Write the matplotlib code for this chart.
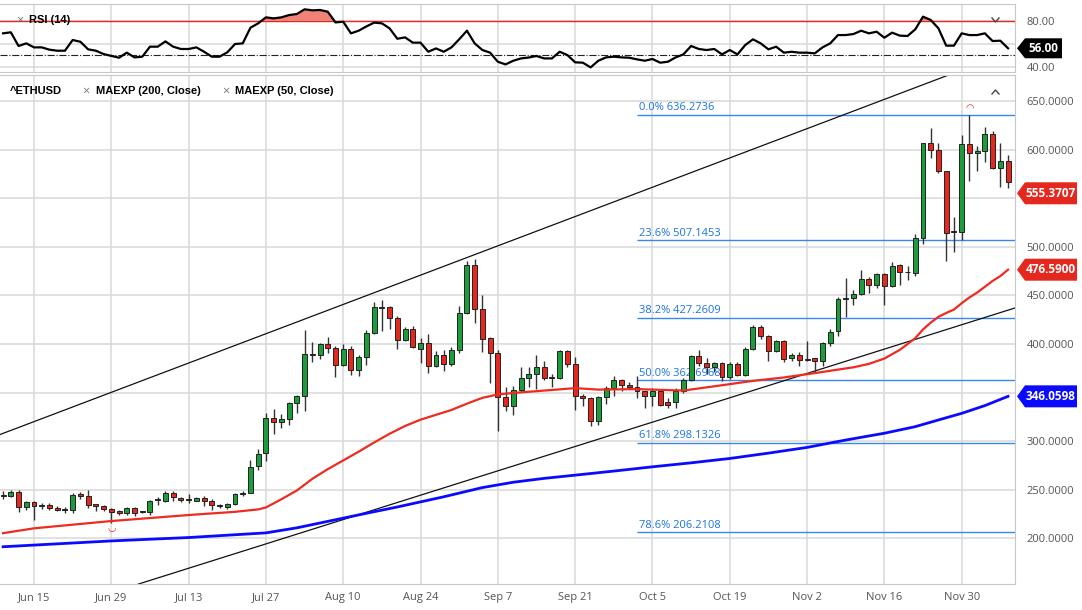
import numpy as np
import pandas as pd
import matplotlib
matplotlib.use('Agg')
import matplotlib.pyplot as plt
from matplotlib.patches import Polygon, Rectangle
from matplotlib.lines import Line2D
from matplotlib.transforms import IdentityTransform

plt.rcParams['font.family'] = ['Open Sans', 'DejaVu Sans']

# daily bars (weekdays only) starting Jun 9 2020
dates = pd.bdate_range('2020-06-09', periods=131)

opens = [243, 243.1, 247.6, 232.1, 237.3, 233.2, 233.8, 231.4, 228.7, 228.7,
         245.2, 243.1, 234.9, 233.2, 230, 227.7, 225.3, 231.1, 226.6, 227,
         239, 238, 246.6, 241.4, 239, 238.3, 241.4, 238, 233.3, 231.5,
         235, 245.5, 246.6, 274, 287.6, 324.1, 320, 322.8, 338.8, 346.3,
         390, 388.3, 399.6, 396.2, 378.1, 395.2, 373, 386.6, 411.5, 438.5,
         437.8, 426.9, 404.4, 415.6, 395, 401.2, 377.5, 388.8, 379.6, 394,
         432.1, 481.6, 435.6, 406, 390.9, 345.2, 335.6, 352.7, 365.1, 368.6,
         376.1, 365.1, 365.1, 392.6, 379.6, 346.2, 344.5, 321.1, 345.2, 354.8,
         362.4, 358, 356, 351.7, 346.6, 351.7, 340.7, 340.7, 351.7, 362.8,
         387.2, 380, 376.6, 380, 365.5, 379.3, 368, 394.8, 417.9, 408.6,
         392.4, 402.8, 385.2, 388.6, 383.4, 385.2, 382, 400.7, 413, 446.5,
         447.6, 451.7, 466.6, 461, 471.7, 459.3, 481, 473.8, 473.1, 509.3,
         606.9, 600, 578.6, 515.5, 515.5, 606.2, 596.6, 599, 616.2, 581.7,
         589]
highs = [248.6, 249.3, 249, 238.3, 238, 235.6, 236, 233, 232, 245.9,
         247.6, 249.3, 235.5, 234.5, 231.1, 228.7, 232, 232, 227.3, 239.7,
         242.4, 248.3, 248.3, 242.4, 245.2, 242.4, 243, 240, 235, 236,
         246, 248, 280.7, 291.7, 328.6, 333, 327.9, 340.5, 347.3, 414.6,
         402, 401, 407, 398, 399.6, 397.5, 388.3, 414, 443.6, 445.4,
         439.5, 429.3, 417.3, 419, 406.4, 409.8, 392.6, 394.3, 396.7, 438.7,
         485.4, 487.8, 450, 407, 394, 355.5, 357, 376.8, 376.1, 388.8,
         382.3, 369.2, 394, 394, 387.1, 348.6, 345, 345.9, 357.2, 367.5,
         364, 360.7, 367.2, 352, 354.5, 352, 344, 354.5, 364.8, 389,
         393.8, 385.5, 381, 381, 381, 381, 396.6, 420, 420, 409.6,
         404, 404, 390.3, 392, 403.4, 385.5, 401.7, 415, 448.3, 468.3,
         455.2, 476.6, 469, 473.4, 473, 484.5, 482.8, 480.3, 513.8, 607.6,
         622.4, 606.9, 578.6, 531, 615.5, 636.3, 604.1, 623.4, 620, 607.6,
         594.8]
lows = [240, 242.4, 227, 228.7, 218.4, 229.7, 228.7, 227.5, 226.3, 225.9,
        240.7, 231, 227.7, 227.7, 215.6, 223.5, 223.5, 222.7, 225.9, 223.5,
        234.5, 237.3, 238, 237.5, 236.6, 237.8, 233, 229, 231, 230,
        234, 243, 246, 270.5, 279, 307, 313, 316.6, 329.2, 331.3,
        381.5, 385, 390.7, 366, 377, 367.8, 366.8, 378, 410.5, 413,
        415.6, 395, 403, 396.2, 380.2, 370, 376.8, 372, 377.8, 390.5,
        431, 421.5, 391.6, 359.6, 310.8, 331.4, 326.3, 350.3, 355.5, 353.8,
        362.4, 355.5, 364, 376.1, 332.1, 335.6, 315.3, 316, 338.3, 346.9,
        352, 353.8, 344.1, 334.5, 336.2, 336.2, 333.8, 334.5, 350, 362,
        377.6, 369, 370.7, 362, 363.8, 366.6, 366.6, 393.8, 405.2, 382.8,
        391.4, 381, 382.8, 377.6, 382.8, 371.4, 377.6, 398, 408, 427.6,
        439.7, 451, 452.4, 458, 440.7, 458.6, 461, 465.5, 469.7, 503.4,
        591.4, 575.9, 485.2, 494.8, 507.6, 568.3, 578.3, 588, 580, 562.1,
        560.3]
closes = [243, 247.6, 232.1, 237.3, 232.8, 233.2, 231, 228.7, 228.7, 244.8,
          243.1, 234.5, 233.5, 230, 227, 225.6, 231.1, 225.6, 226.6, 238,
          239, 246.6, 241.8, 239, 239, 241.4, 238, 234, 233.3, 235,
          245.5, 245.5, 273.2, 286.5, 324.1, 320, 322.4, 338.8, 346.3, 390,
          388.3, 399.6, 396.2, 378.1, 395.2, 373, 386.6, 411.5, 438.5, 437.2,
          426.9, 404.4, 415.6, 396.9, 401.2, 377.1, 388.8, 379.6, 394, 432.1,
          481.6, 435.6, 405.3, 390.9, 345.2, 335.6, 352.7, 365.1, 368.6, 376.1,
          365.1, 365.1, 392.6, 379.6, 346.2, 344.5, 321.1, 345.2, 354.8, 362.4,
          357.9, 355.5, 351.9, 346.6, 351.7, 336.9, 336.9, 351.7, 362.8, 387.2,
          380, 376.6, 380, 365.5, 379.3, 368, 394.8, 417.9, 408.6, 392.4,
          402.8, 384.5, 389, 383.4, 384.5, 382.8, 400.7, 412, 445.9, 447.2,
          451.7, 466.6, 461, 471.7, 459.3, 480.7, 474.1, 473.8, 509.3, 606.9,
          600, 578.3, 514.8, 515.5, 606.2, 596.6, 599.3, 616.2, 581.7, 589,
          566.6]

rsi = [69.0, 69.9, 58.0, 60.3, 56.8, 56.8, 54.8, 53.9, 53.9, 63.2,
       61.7, 55.1, 53.9, 51.0, 49.4, 47.8, 52.2, 48.1, 48.7, 57.4,
       57.4, 62.0, 57.4, 55.4, 55.4, 56.8, 53.0, 48.7, 48.7, 52.5,
       59.7, 60.3, 73.9, 77.7, 82.9, 82.0, 82.9, 84.9, 85.8, 89.9,
       89.0, 89.3, 87.8, 78.5, 79.1, 69.0, 71.3, 75.0, 78.3, 77.7,
       73.3, 64.3, 65.5, 60.9, 60.9, 53.0, 55.9, 53.0, 56.8, 63.8,
       71.3, 60.3, 54.5, 52.2, 44.3, 42.0, 45.2, 47.2, 48.0, 49.3,
       47.2, 47.2, 53.0, 50.1, 43.8, 43.5, 39.4, 45.2, 48.1, 48.7,
       48.1, 47.8, 46.4, 45.2, 46.7, 43.5, 44.3, 48.1, 50.7, 58.0,
       55.4, 54.5, 55.4, 50.7, 54.5, 50.7, 58.8, 63.8, 60.3, 55.1,
       57.4, 52.2, 53.0, 52.2, 52.2, 51.6, 56.8, 60.3, 67.5, 67.5,
       68.4, 71.3, 69.0, 70.4, 65.2, 69.6, 67.0, 66.7, 72.5, 83.5,
       80.6, 73.3, 58.3, 58.3, 69.0, 67.5, 67.5, 69.0, 62.3, 62.6,
       56.0]

ema50_x = [0, 4, 14, 24, 30, 33, 34, 36, 38, 40, 42, 44, 46, 48, 50, 52, 54, 56, 58,
           60, 62, 64, 66, 70, 74, 77, 82, 88, 93, 97, 101, 105, 107, 110, 112,
           114, 116, 117, 118, 119, 120, 121, 122, 123, 124, 125, 126, 127, 128,
           129, 130]
ema50_y = [205, 210, 217.5, 223.7, 227, 229.5, 231.5, 240, 249, 261, 271, 280, 289,
           298.5, 307.5, 315.5, 322, 327, 332, 338.5, 344.5, 348, 349.5, 352,
           354.5, 353, 353.5, 352, 357.5, 362, 365.5, 370, 372.4, 376, 379.5,
           385, 394, 400, 406, 415, 422, 428, 432, 435.5, 442, 448, 453, 459,
           465, 470, 476.59]

ema200_x = [0, 14, 24, 34, 38, 44, 47, 51, 57, 62, 66, 70, 74, 79, 84, 89, 94,
            99, 104, 109, 114, 118, 121, 124, 127, 130]
ema200_y = [191, 197, 200.5, 205.3, 210.5, 220.5, 225.5, 232, 242.5, 252,
            257.5, 261.5, 264.8, 269, 273.4, 277.5, 282, 287.5, 293.4, 301,
            308, 314.8, 321.7, 328.5, 336.5, 346.0598]

fib_pct = ['0.0%', '23.6%', '38.2%', '50.0%', '61.8%', '78.6%']
fib_val = [636.2736, 507.1453, 427.2609, 362.6968, 298.1326, 206.2108]
fib_start = 82

# channel anchors (bar, price)
upper_line = [(0, 307.9), (120, 670.3)]
lower_line = [(20, 158.8), (130, 434.9)]

tick_labels = ['Jun 15', 'Jun 29', 'Jul 13', 'Jul 27', 'Aug 10', 'Aug 24', 'Sep 7',
               'Sep 21', 'Oct 5', 'Oct 19', 'Nov 2', 'Nov 16', 'Nov 30']

x = np.arange(len(dates))
day_names = [f'{d:%b} {d.day}' for d in dates]
tick_pos = [day_names.index(t) for t in tick_labels]

W, H = 1082, 610
fig = plt.figure(figsize=(W / 100, H / 100), dpi=100)
rax = fig.add_axes([0, 1 - 72 / H, 1015 / W, 68 / H])
ax = fig.add_axes([0, 1 - 584 / H, 1015 / W, 509 / H])

grid_c = '#d9d9d9'
lab_c = '#555555'
green = '#1c9c3b'
red = '#e5281e'

for a in (ax, rax):
    a.set_xlim(-0.4, 130.9)
    a.set_xticks(tick_pos)
    a.grid(True, color=grid_c, lw=1.1)
    a.set_axisbelow(True)
    a.yaxis.tick_right()
    a.tick_params(length=0, labelsize=8, labelcolor=lab_c)
    a.tick_params(axis='y', pad=8.5)
    for s in a.spines.values():
        s.set_color('#c8c8c8')
    a.spines['left'].set_visible(False)

# RSI panel (60 label sits under the value tag)
rax.set_ylim(35.4, 94.5)
rax.set_yticks([40, 60, 80])
rax.set_yticklabels(['40.00', '', '80.00'])
rax.set_xticklabels([])
rsi_a = np.array(rsi)
rax.fill_between(x, 80, rsi_a, where=rsi_a >= 80, interpolate=True, color='#f07468', alpha=0.9, lw=0)
rax.axhline(80, color=red, lw=1)
rax.axhline(50, color='#222222', lw=0.8, ls='-.')
rax.plot(x, rsi_a, color='black', lw=1.6)
rax.text(16 / 1015, 0.765, '×', transform=rax.transAxes, color='#777777', fontsize=9, va='center')
rax.text(29 / 1015, 0.765, 'RSI (14)', transform=rax.transAxes, fontsize=8, fontweight='bold',
         family=['Liberation Sans', 'DejaVu Sans'], va='center')

# main panel (550 and 350 labels sit under the value tags)
ax.set_ylim(152.6, 677.3)
yt = np.arange(200, 651, 50)
ax.set_yticks(yt)
ax.set_yticklabels(['' if v in (350, 550) else f'{v:.4f}' for v in yt])
ax.set_xticklabels(tick_labels)
ax.tick_params(axis='x', pad=6)

for pct, v in zip(fib_pct, fib_val):
    ax.hlines(v, fib_start, 131, color='#3b86ec', lw=1, zorder=1.5)
    ax.text(fib_start + 0.2, v + 1.5, f'{pct} {v:.4f}', color='#1a73e8', fontsize=8, va='bottom', zorder=1.5)

ax.axline(upper_line[0], upper_line[1], color='#111111', lw=0.9, zorder=2)
ax.axline(lower_line[0], lower_line[1], color='#111111', lw=0.9, zorder=2)

for i in x:
    o, h, l, c = opens[i], highs[i], lows[i], closes[i]
    if c > o:
        col = green
    elif c < o:
        col = red
    else:
        col = '#222222'
    ax.vlines(i, l, h, color='#333333', lw=1, zorder=3)
    ax.add_patch(Rectangle((i - 0.32, min(o, c)), 0.64, max(abs(c - o), 0.9),
                           fc=col, ec='#222222', lw=0.7, zorder=3.5))

ax.plot(ema200_x, ema200_y, color='#0a0aff', lw=2, zorder=4)
ax.plot(ema50_x, ema50_y, color='#ee2b1f', lw=1.6, zorder=4)

ax.annotate('◠', xy=(125, highs[125]), xytext=(0, 1), textcoords='offset points',
            ha='center', va='bottom', color=red, fontsize=7)
ax.annotate('◡', xy=(14, lows[14]), xytext=(0, 0), textcoords='offset points',
            ha='center', va='top', color=red, fontsize=7)

lf = ['Liberation Sans', 'DejaVu Sans']
ly = (584 - 91) / 509
ax.text(10 / 1015, ly, '^ETHUSD', transform=ax.transAxes, fontsize=8, fontweight='bold', family=lf, va='center')
ax.text(82 / 1015, ly, '×', transform=ax.transAxes, fontsize=9, color='#777777', va='center')
ax.text(96 / 1015, ly, 'MAEXP (200, Close)', transform=ax.transAxes, fontsize=8, fontweight='bold', family=lf, va='center')
ax.text(222 / 1015, ly, '×', transform=ax.transAxes, fontsize=9, color='#777777', va='center')
ax.text(235 / 1015, ly, 'MAEXP (50, Close)', transform=ax.transAxes, fontsize=8, fontweight='bold', family=lf, va='center')

# collapse chevrons
for yy, d in ((20, -1), (92, 1)):
    fig.add_artist(Line2D([992, 995.5, 999], [H - yy - 2 * d, H - yy + 2 * d, H - yy - 2 * d],
                          transform=IdentityTransform(), color='#444444', lw=1))


def price_tag(a, value, text, color, width, h=11):
    x0 = a.transAxes.transform((1, 0))[0]
    y = a.transData.transform((0, value))[1]
    pts = [(x0 + 2, y), (x0 + 10, y + h), (x0 + 10 + width, y + h),
           (x0 + 10 + width, y - h), (x0 + 10, y - h)]
    fig.add_artist(Polygon(pts, closed=True, transform=IdentityTransform(), fc=color, ec='none', zorder=5))
    fig.text(x0 + 10 + width / 2, y, text, transform=IdentityTransform(), color='white',
             fontsize=8.5, fontweight='bold', ha='center', va='center', zorder=6)


price_tag(ax, 555.3707, '555.3707', red, 52)
price_tag(ax, 476.59, '476.5900', red, 52)
price_tag(ax, 346.0598, '346.0598', '#0a0aff', 52)
price_tag(rax, rsi[-1], '56.00', 'black', 37, h=10)

fig.savefig('out.png', dpi=100)
